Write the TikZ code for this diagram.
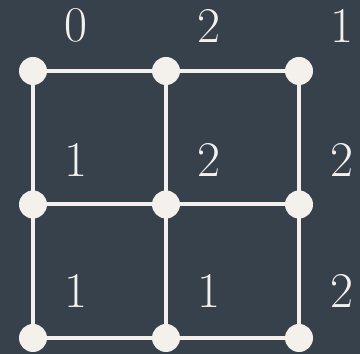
\documentclass[tikz,border=0pt]{standalone}
\definecolor{bg}{HTML}{36414C}
\definecolor{fg}{HTML}{F4F0EC}
\begin{document}
\begin{tikzpicture}[x=1pt,y=1pt,
  dot/.style={circle,fill=fg,minimum size=28pt,inner sep=0pt},
  edge/.style={draw=fg,line width=4pt},
  lab/.style={text=fg,font=\fontsize{50}{50}\selectfont,inner sep=0pt}]
\fill[bg] (0,0) rectangle (360,354);
\useasboundingbox (0,0) rectangle (360,354);
\foreach \i/\x in {1/33,2/166,3/299}{
  \foreach \j/\y in {1/283,2/149.5,3/16}{
    \coordinate (c\i\j) at (\x,\y);
  }
}
\draw[edge] (c11) -- (c21) -- (c31);
\draw[edge] (c12) -- (c22) -- (c32);
\draw[edge] (c13) -- (c23) -- (c33);
\draw[edge] (c11) -- (c12) -- (c13);
\draw[edge] (c21) -- (c22) -- (c23);
\draw[edge] (c31) -- (c32) -- (c33);
\foreach \i in {1,2,3}{\foreach \j in {1,2,3}{\node[dot] (d\i\j) at (c\i\j) {};}}
\node[lab] (l11) at (76,328.5) {0};
\node[lab] (l21) at (209,328.5) {2};
\node[lab] (l31) at (342,328.5) {1};
\node[lab] (l12) at (76,194) {1};
\node[lab] (l22) at (209,194) {2};
\node[lab] (l32) at (342,194) {2};
\node[lab] (l13) at (76,63) {1};
\node[lab] (l23) at (209,63) {1};
\node[lab] (l33) at (342,63) {2};
\end{tikzpicture}
\end{document}
